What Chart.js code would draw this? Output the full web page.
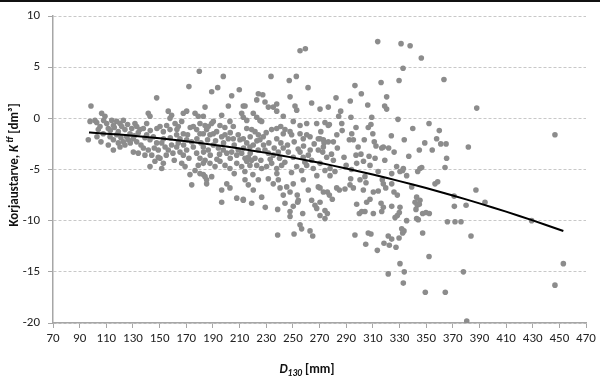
<!DOCTYPE html>
<html><head><meta charset="utf-8">
<script src="https://cdn.jsdelivr.net/npm/chart.js@4.4.1/dist/chart.umd.min.js"></script>
<style>
html,body{margin:0;padding:0;background:#fff;}
#wrap{position:relative;width:600px;height:379px;}
#topline{position:absolute;left:0;top:0;width:600px;height:2px;background:#111;}
</style></head><body>
<div id="wrap"><canvas id="c" width="600" height="379"></canvas><div id="topline"></div></div>
<script>
const xTickValues = [70,90,110,130,150,170,190,210,230,250,270,290,310,330,350,370,390,410,430,450,470];
const yTickValues = [-20,-15,-10,-5,0,5,10];

const scatterPoints = [
[255.4,6.6],[259.4,6.8],[179.8,4.6],[197.8,4.1],[172,3.1],[193.6,3.0],[209.8,2.8],[233.6,4.1],[247.3,3.7],[252.6,4.1],[261.4,3.0],
[313.7,7.5],[331.2,7.3],[338,7.1],[346.4,5.9],[332.7,4.9],[363.4,3.8],[329.7,3.7],[316.2,3.5],[296.6,3.2],[301.4,2.4],[320.4,2.1],[282.4,2.0],[293.1,1.7],[318.9,1.2],[320.4,0.9],[276.6,1.1],[270.4,0.9],[285.9,0.7],[306.2,1.3],[284.4,0.2],[293.6,0.1],[309.2,0.1],[328.9,-0.1],[277.4,-0.6],[286.7,-0.5],[297.4,-0.9],[308.6,-0.6],[306.6,-0.9],[352.2,-0.5],[359.9,-1.2],[294.2,-1.5],[323.9,-1.7],[270.4,-2.0],[292.4,-2.1],[295.4,-2.1],[303.6,-2.1],[333.6,-2.1],[357.9,-2.0],[273.4,-2.4],[280.4,-2.3],[311.1,-2.3],[361,-2.5],[365,-2.5],[283.4,-2.9],[312.4,-2.7],[316.7,-2.9],[317.9,-2.8],[321.9,-2.9],[344.9,-3.1],[354.6,-3.1],[272.4,-3.3],[288.4,-3.8],[297.4,-3.6],[301.1,-3.5],[307.2,-3.7],[311.7,-3.9],[365.4,-3.9],[280.4,-4.1],[307.9,-4.6],[327.9,-4.7],[332.9,-4.9],[345.4,-4.9],[364.2,-4.8],
[388,1.0],[381.7,-2.8],[446.7,-1.6],[387.4,-7.0],[371,-7.6],[371.2,-8.6],[380,-8.5],[394.2,-8.2],[366,-10.1],[371.7,-10.1],[376.2,-10.1],[429.2,-10.0],[383.7,-11.5],[378,-15.0],[453,-14.2],[446.7,-16.3],[364.4,-17.0],[380.5,-19.8],
[297.9,-4.4],[332.4,-5.1],[330.4,-5.2],[346.7,-4.8],[343.7,-5.2],[277.9,-5.6],[281.6,-5.2],[293.4,-5.9],[300.4,-6.0],[304.1,-5.7],[304.9,-6.3],[317.1,-6.0],[317.9,-6.4],[324.2,-5.4],[335.4,-5.6],[339.2,-6.7],[356.7,-6.4],[358.7,-6.2],[270.4,-6.8],[272.9,-7.2],[275.9,-7.2],[277.4,-7.5],[282.9,-6.8],[284.9,-7.0],[289.1,-6.9],[292.9,-6.5],[295.4,-6.8],[302.9,-7.0],[310.4,-7.2],[314.1,-7.1],[319.7,-6.8],[324.2,-6.4],[325.9,-7.2],[328.4,-7.5],[342.9,-7.7],[345.4,-8.0],[279.6,-7.9],[297.9,-8.4],[305.4,-8.2],[307.9,-7.9],[316.2,-8.3],[317.9,-8.7],[316.7,-9.1],[324.2,-8.6],[330.4,-8.7],[329.9,-9.2],[341.7,-8.2],[343.4,-8.5],[344.9,-8.4],[342.4,-8.9],[274.1,-9.0],[275.9,-9.3],[274.1,-9.8],[270.4,-9.5],[299.9,-9.3],[301.7,-9.1],[304.1,-9.1],[310.4,-9.3],[326.7,-9.7],[328.4,-9.5],[335.4,-10.0],[342.9,-9.8],[344.1,-9.9],[347.4,-9.3],[349.9,-9.2],[352.4,-9.3],[331.7,-10.8],[333.4,-11.0],[332.4,-11.2],[347.4,-11.2],[296.6,-11.4],[306.6,-11.2],[308.6,-11.3],[321.6,-11.5],[324.2,-11.8],[322.4,-12.4],[329.7,-11.7],[327.4,-12.6],[318.4,-12.2],[304.7,-12.3],[313.4,-12.9],[352.2,-13.5],[330.4,-14.2],[333.6,-15.0],[321.6,-15.2],[332.9,-16.1],[349.4,-17.0],
[196.6,-8.2],[212.8,-8.0],[219.1,-8.3],[229.3,-8.7],[238.6,-8.9],[244.1,-8.3],[250.3,-8.6],[253.6,-8.2],[247.9,-9.1],[247.9,-9.6],[257.4,-9.3],[266.6,-8.5],[267.9,-8.8],[270.4,-8.2],[255.4,-10.4],[256.6,-10.8],[262.9,-11.0],[264.9,-11.5],[238.6,-11.4],[250.9,-11.3],
[189.1,2.6],[204.1,2.2],[224.1,2.4],[227.4,2.3],[247.9,2.1],[222.9,1.8],[229.1,1.6],[231.6,1.1],[237.9,1.4],[235.3,1.1],[184.1,1.1],[201.6,1.2],[212.8,1.2],[214.1,1.2],[251.6,1.2],[252.9,0.8],[264.1,1.5],[237.9,0.7],[211.6,0.5],[220.3,0.5],[196.6,0.3],[222.9,0.1],[225.3,-0.2],[226.6,-0.3],[212.8,0.1],[215.4,-0.2],[190.3,-0.3],[195.3,-0.7],[202.8,-0.3],[205.3,-0.8],[182.8,0.2],[184.1,-0.7],[186.5,-0.8],[242.8,0.2],[240.9,-0.8],[255.4,-0.7],[260.4,-0.5],[250.3,-0.3],[267.9,-0.5],[274.1,-0.4],[276.6,-0.7],[215.4,-1.0],[219.1,-1.1],[221.6,-1.3],[224.1,-1.6],[225.3,-2.1],[227.8,-1.8],[234.1,-1.1],[237.9,-1.0],[237.9,-2.0],[244.1,-1.1],[242.8,-1.5],[247.9,-1.3],[249.1,-1.6],[255.4,-1.5],[257.8,-2.0],[260.4,-1.6],[262.9,-1.8],[269.1,-2.0],[272.9,-2.1],[276.6,-2.3],
[180.3,-1.5],[185.3,-1.1],[187.8,-1.6],[190.3,-1.5],[192.8,-1.3],[196.6,-1.8],[199.1,-1.6],[201.6,-2.0],[205.3,-2.0],[210.3,-2.1],[212.8,-2.0],[215.4,-2.4],[217.8,-2.8],[220.3,-2.6],[182.8,-2.8],[186.5,-3.1],[190.3,-2.6],[194.1,-2.9],[197.8,-3.1],[200.4,-3.4],[204.1,-3.3],[207.9,-3.6],[211.6,-3.4],[214.1,-3.9],[216.6,-3.8],[219.1,-4.1],[221.6,-3.9],[229.1,-3.1],[231.6,-3.4],[235.3,-3.6],[239.1,-3.3],[242.8,-2.9],[246.6,-3.3],[250.3,-3.8],[255.4,-3.3],[257.8,-3.8],[261.6,-3.6],[264.1,-4.1],[269.1,-3.1],[272.9,-2.8],[275.4,-3.8],
[184.1,-4.1],[187.8,-4.4],[191.6,-4.7],[195.3,-4.2],[199.1,-4.6],[202.8,-4.9],[207.9,-4.4],[211.6,-4.7],[215.4,-4.2],[217.8,-4.6],[222.9,-4.6],[226.6,-4.9],[230.3,-4.7],[234.1,-4.4],[237.9,-4.9],[241.6,-4.6],[252.9,-4.7],[256.6,-5.1],[260.4,-4.6],[265.3,-4.9],[270.4,-4.4],[274.1,-5.1],[277.9,-4.9],[182.8,-5.5],[185.3,-6.0],[189.1,-5.7],[196.6,-7.0],[200.4,-6.4],[202.8,-6.8],[207.9,-7.8],[212.8,-7.9],[214.1,-6.0],[216.6,-6.5],[220.3,-7.0],[224.1,-6.0],[226.6,-7.7],[231.6,-5.9],[235.3,-6.4],[239.1,-6.0],[240.4,-6.8],[242.8,-7.5],[245.4,-6.7],[247.9,-7.2],[250.3,-6.4],[253.3,-7.5],[254.1,-8.0],[257.8,-6.0],[261.6,-7.0],[264.1,-8.0],[269.1,-6.7],
[98.5,1.2],[147.8,2.0],[96.5,-2.1],[97.8,-0.3],[101.5,-0.2],[102.8,-0.4],[106.5,0.5],[109,0.2],[104,-1.1],[105.3,-0.8],[107.7,-1.5],[110.3,-0.5],[111.5,-1.0],[114.1,-0.2],[115.3,-0.7],[112.8,-1.8],[115.3,-2.1],[117.8,-1.6],[119,-1.3],[117.8,-0.3],[120.3,-0.5],[121.6,-0.8],[122.8,-0.2],[124,-1.1],[125.3,-1.8],[127.8,-1.5],[129.1,-1.0],[122.8,-2.3],[126.5,-2.1],[130.3,-2.0],[132.8,-2.3],[131.5,-0.5],[132.8,-0.8],[135.3,-1.1],[137.8,-1.0],[130.3,-3.3],[134,-3.4],[137.8,-2.9],[140.3,-0.5],[141.5,0.5],[142.8,0.2],[140.3,-1.6],[142.8,-2.1],[145.3,-1.8],[147.8,-2.4],[141.5,-3.1],[144.1,-3.6],[146.5,-4.2],[149,-3.8],[150.3,-0.8],[152.8,-1.3],[155.3,-0.7],[157.8,-1.1],[156.5,0.7],[159,0.3],[157.8,0.0],[151.6,-2.4],[154.1,-2.8],[156.5,-3.1],[159,-2.6],[150.3,-3.9],[152.8,-4.4],[151.6,-4.9],
[161.6,-0.5],[164,-0.8],[166.6,-0.3],[167.8,0.5],[170.3,0.7],[176.6,0.5],[179,0.2],[162.8,-1.6],[165.3,-2.0],[167.8,-1.5],[170.3,-2.1],[162.8,-2.8],[165.3,-3.3],[167.8,-3.6],[170.3,-3.1],[166.6,-4.4],[169.1,-4.7],[172.8,-5.5],[174.1,-6.5],[175.3,-0.8],[177.8,-1.1],[180.3,-0.5],[182.8,-1.5],[175.3,-2.8],[177.8,-3.4],[180.3,-3.9],[182.8,-4.4],[176.6,-5.1],[180.3,-5.4],[184.1,-5.7],[185.3,-6.4],[111.5,-2.6],[115.3,-3.1],[120.3,-2.8],[142.8,-4.7],
[103,-1.8],[106,-2.3],[108,-0.2],[113,-1.2],[116,-0.9],[119,-2.4],[121,-1.9],[124,-2.6],[126,-0.6],[128,-2.4],[131,-1.7],[134,-1.4],[136,-2.6],[139,-1.9],[139,-3.6],[143,-1.2],[146,-2.9],[148,-1.0],[149,-3.1],[153,-2.0],[155,-3.6],[158,-1.9],[160,-3.4],[161,-4.1],[163,-1.1],[164,-2.4],[168,-2.6],[171,-1.6],[172,-3.9],[173,-0.9],[174,-2.3],[178,-2.0],[179,-4.6],[181,-2.4],[183,-3.3],[186,-2.1],[188,-3.6],[189,-0.5],[192,-2.2],[193,-4.0],[195,-3.5],[198,-2.4],[199,-0.9],[203,-1.4],[203,-3.9],[206,-2.6],[206,-5.4],[209,-1.6],[209,-3.1],[213,-2.9],[214,-5.2],[218,-1.8],[218,-3.4],[220,-5.5],[223,-2.2],[224,-3.1],[226,-4.1],[228,-2.6],[230,-1.4],[232,-2.4],[233,-4.0],[236,-2.9],[238,-5.4],[240,-3.9],[241,-2.4],[244,-4.3],[246,-2.6],[249,-5.3],[251,-2.3],[254,-3.0],[258,-2.7],[259,-4.3],[263,-3.1],[266,-2.5],[268,-5.6],[271,-1.3],[279,-3.5],[283,-1.6],[287,-1.2],[290,-4.6],[294,-5.0],[299,-2.8],[303,-4.2],[310,-1.5],[314,-5.2],[319,-4.1],[326,-3.3],[337,-3.7],[340,-1.0],[349,-2.4]
];

const trendX = [97,100,120,140,160,180,200,220,240,260,280,300,320,340,360,380,400,420,440,453];
const trendY = [-1.39,-1.41,-1.59,-1.82,-2.09,-2.40,-2.76,-3.16,-3.60,-4.09,-4.62,-5.19,-5.81,-6.47,-7.17,-7.92,-8.71,-9.54,-10.42,-11.01];

const FONT = "Carlito, 'Liberation Sans', sans-serif";
const AXIS_GRAY = '#a6a6a6';

function drawSegments(ctx, segs, cx, baseY) {
  let total = 0;
  segs.forEach(s => { ctx.font = s.f; s.w = ctx.measureText(s.t).width; total += s.w; });
  let x = cx - total / 2;
  segs.forEach(s => { ctx.font = s.f; ctx.fillText(s.t, x, baseY + s.dy); x += s.w; });
}

const axisTitles = {
  id: 'axisTitles',
  afterDraw(chart) {
    const ctx = chart.ctx;
    ctx.save();
    ctx.fillStyle = '#111';
    ctx.textBaseline = 'alphabetic';
    ctx.textAlign = 'left';
    drawSegments(ctx, [
      {t: 'D', f: "italic bold 13px " + FONT, dy: 0},
      {t: '130', f: "italic bold 9.5px " + FONT, dy: 3},
      {t: ' [mm]', f: "bold 13px " + FONT, dy: 0}
    ], 307, 373);
    ctx.translate(18, 165);
    ctx.rotate(-Math.PI / 2);
    drawSegments(ctx, [
      {t: 'Korjaustarve, ', f: "bold 13px " + FONT, dy: 0},
      {t: 'K', f: "italic bold 13px " + FONT, dy: 0},
      {t: ' tf', f: "italic bold 9.5px " + FONT, dy: -5},
      {t: ' [dm\u00b3]', f: "bold 13px " + FONT, dy: 0}
    ], 0, 0);
    ctx.restore();
  }
};

new Chart(document.getElementById('c'), {
  type: 'scatter',
  data: {
    datasets: [
      {
        type: 'line',
        label: 'trend',
        data: trendX.map((x, i) => ({x: x, y: trendY[i]})),
        borderColor: '#000',
        borderWidth: 2,
        pointRadius: 0,
        fill: false,
        tension: 0.3,
        order: 0
      },
      {
        label: 'Korjaustarve',
        data: scatterPoints.map(p => ({x: p[0], y: p[1]})),
        backgroundColor: '#8c8c8c',
        borderWidth: 0,
        pointRadius: 2.8,
        order: 1
      }
    ]
  },
  options: {
    responsive: false,
    animation: false,
    devicePixelRatio: 1,
    layout: {padding: {top: 16, right: 14, left: 0, bottom: 0}},
    plugins: {legend: {display: false}, tooltip: {enabled: false}},
    scales: {
      x: {
        type: 'linear', min: 70, max: 470,
        afterBuildTicks: s => { s.ticks = xTickValues.map(v => ({value: v})); },
        afterFit: s => { s.height = 56; },
        ticks: {font: {family: FONT, size: 13}, color: '#222', padding: 3, maxRotation: 0, autoSkip: false},
        grid: {drawOnChartArea: false, drawTicks: true, tickLength: 5, tickColor: AXIS_GRAY, tickWidth: 1},
        border: {color: AXIS_GRAY, width: 1.5}
      },
      y: {
        type: 'linear', min: -20, max: 10,
        afterBuildTicks: s => { s.ticks = yTickValues.map(v => ({value: v})); },
        afterFit: s => { s.width = 53; },
        ticks: {font: {family: FONT, size: 13}, color: '#222', padding: 8},
        grid: {color: '#c8c8c8', lineWidth: 1, drawTicks: true, tickLength: 5, tickColor: AXIS_GRAY, tickWidth: 1, tickBorderDash: []},
        border: {color: AXIS_GRAY, width: 1.5, dash: [3, 2]}
      }
    }
  },
  plugins: [axisTitles]
});
</script>
</body></html>
